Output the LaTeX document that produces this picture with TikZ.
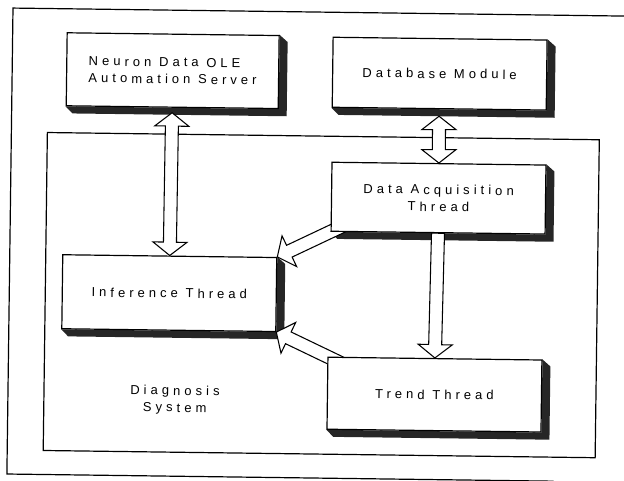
\documentclass[tikz,border=0pt]{standalone}
\usepackage{fontspec}
\newfontfamily\labelfont{Liberation Sans}[LetterSpace=31]
\usetikzlibrary{calc}
\pgfdeclarelayer{back}
\pgfsetlayers{back,main}

% arrow geometry (1px = 0.75pt)
\def\ahlen{10pt}     % head length
\def\ahhw{12.75pt}   % head half width
\def\ashw{4.875pt}   % shaft half width

\tikzset{
  labeltext/.style={font=\labelfont\fontsize{9.75pt}{12.75pt}\selectfont, align=center, inner sep=0pt},
  box/.style 2 args={labeltext, draw, fill=white, line width=0.9pt, rectangle,
    minimum width=#1*0.75pt, minimum height=#2*0.75pt},
  frameline/.style={draw, line width=0.9pt},
  shadowfill/.style={fill=black!85},
  blockarrow/.style={draw, fill=white, line width=0.8pt, line join=miter},
}

% drop shadow along the right and bottom sides of a box
\newcommand\dropshade[1]{%
  \fill[shadowfill] (#1.north east) -- ($(#1.north east)+(8,7)$)
    -- ($(#1.south east)+(8,7)$) -- ($(#1.south west)+(7,7)$)
    -- (#1.south west) -- (#1.south east) -- cycle;}

% hollow block arrow with one head
\newcommand\onewayarrow[2]{%
  \coordinate (ha-a) at (#1);
  \coordinate (ha-b) at (#2);
  \coordinate (ha-m) at ($(ha-b)!\ahlen!(ha-a)$);
  \draw[blockarrow] ($(ha-a)!\ashw!90:(ha-b)$) -- ($(ha-m)!\ashw!90:(ha-b)$)
    -- ($(ha-m)!\ahhw!90:(ha-b)$) -- (ha-b) -- ($(ha-m)!\ahhw!-90:(ha-b)$)
    -- ($(ha-m)!\ashw!-90:(ha-b)$) -- ($(ha-a)!\ashw!-90:(ha-b)$) -- cycle;}

% hollow block arrow with two heads
\newcommand\twowayarrow[2]{%
  \coordinate (ha-a) at (#1);
  \coordinate (ha-b) at (#2);
  \coordinate (ha-m1) at ($(ha-a)!\ahlen!(ha-b)$);
  \coordinate (ha-m2) at ($(ha-b)!\ahlen!(ha-a)$);
  \draw[blockarrow] (ha-a) -- ($(ha-m1)!\ahhw!-90:(ha-b)$) -- ($(ha-m1)!\ashw!-90:(ha-b)$)
    -- ($(ha-m2)!\ashw!-90:(ha-b)$) -- ($(ha-m2)!\ahhw!-90:(ha-b)$) -- (ha-b)
    -- ($(ha-m2)!\ahhw!90:(ha-b)$) -- ($(ha-m2)!\ashw!90:(ha-b)$)
    -- ($(ha-m1)!\ashw!90:(ha-b)$) -- ($(ha-m1)!\ahhw!90:(ha-b)$) -- cycle;}

\begin{document}
\begin{tikzpicture}[x=0.75pt, y=-0.75pt]
\useasboundingbox (0,0) rectangle (624,481);
\begin{scope}[rotate=-0.75, transform shape]
  % outer frame (open towards the right)
  \draw[frameline] (700,7.9) -- (13.1,7.9) -- (13.1,473.9) -- (560,473.9);

  \node[box={212}{73}, align=left] (neuron) at (173.6,68.4) {Neuron Data OLE\\Automation Server};
  \node[box={214}{70}] (db) at (440.6,67.9) {Database Module};
  \node[box={214}{69}] (daq) at (441.1,192.4) {Data Acquisition\\Thread};
  \node[box={214}{74}] (infer) at (173.1,290.9) {Inference Thread};
  \node[box={214}{72}] (trend) at (439.6,388.9) {Trend Thread};
  \node[labeltext] (diag) at (180.1,397.9) {Diagnosis\\System};

  \begin{pgfonlayer}{back}
    % diagnosis system frame
    \draw[frameline] (49.1,131.9) rectangle (601.1,449.9);
    \dropshade{neuron}
    \dropshade{db}
    \dropshade{daq}
    \dropshade{infer}
    \dropshade{trend}
    \twowayarrow{$(neuron.south)+(0,5)$}{infer.north}
    \twowayarrow{$(db.south)+(0,7)$}{daq.north}
    \onewayarrow{daq.south}{trend.north}
    \onewayarrow{$(daq.south west)!-12pt!(infer.north east)$}{infer.north east}
    \onewayarrow{$(trend.north west)!-12pt!(infer.south east)$}{infer.south east}
  \end{pgfonlayer}
\end{scope}
\end{tikzpicture}
\end{document}
